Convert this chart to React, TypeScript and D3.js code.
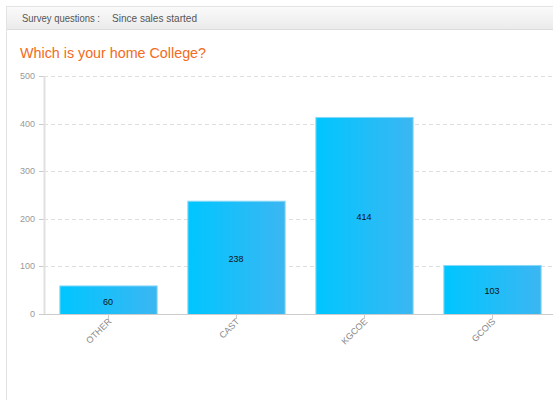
import React from "react";
import * as d3 from "d3";

const categories = ["OTHER", "CAST", "KGCOE", "GCOIS"];
const values = [60, 238, 414, 103];
const yTicks = [0, 100, 200, 300, 400, 500];

const W = 553;
const H = 400;
const FONT = "'Liberation Sans', Arial, sans-serif";

export default function App() {
  const x = d3.scaleBand<string>().domain(categories).range([44, 556]).paddingInner(0.24).paddingOuter(0.12);
  const y = d3.scaleLinear().domain([0, 500]).range([314, 76]);
  const bw = x.bandwidth();
  return (
    <svg width={W} height={H} style={{ position: "absolute", left: 0, top: 0, fontFamily: FONT }}>
      <defs>
        <linearGradient id="hdr" x1="0" y1="0" x2="0" y2="1">
          <stop offset="0" stopColor="#fafafa" />
          <stop offset="1" stopColor="#ebebeb" />
        </linearGradient>
        <linearGradient id="bar" x1="0" y1="0" x2="1" y2="0">
          <stop offset="0" stopColor="#00c6ff" />
          <stop offset="1" stopColor="#3cb6f2" />
        </linearGradient>
      </defs>
      <rect x={0} y={0} width={W} height={H} fill="#fff" />
      <rect x={6.5} y={6.5} width={W} height={H} fill="#fff" stroke="#e3e3e3" />
      <rect x={7} y={7} width={W} height={22} fill="url(#hdr)" />
      <line x1={7} x2={W} y1={29.5} y2={29.5} stroke="#dcdcdc" />
      <text x={22} y={22} fontSize={10.5} fill="#555" textLength={78} lengthAdjust="spacingAndGlyphs">Survey questions :</text>
      <text x={112} y={22} fontSize={10.5} fill="#555" textLength={85} lengthAdjust="spacingAndGlyphs">Since sales started</text>
      <text x={20} y={58} fontSize={14.5} fill="#f26b22" textLength={186} lengthAdjust="spacingAndGlyphs">Which is your home College?</text>
      {yTicks.map((t) => (
        <g key={t}>
          {t > 0 && (
            <line x1={44} x2={W} y1={Math.round(y(t)) + 0.5} y2={Math.round(y(t)) + 0.5} stroke="#dedede" strokeDasharray="4,3" />
          )}
          <line x1={39} x2={44} y1={Math.round(y(t)) + 0.5} y2={Math.round(y(t)) + 0.5} stroke="#ccc" />
          <text x={35} y={y(t) + 3} fontSize={9} fill="#999" textAnchor="end">{t}</text>
        </g>
      ))}
      <line x1={44.5} x2={44.5} y1={76} y2={314} stroke="#e0e0e0" strokeWidth={2} />
      {categories.map((c, i) => {
        const x0 = x(c)!;
        const top = y(values[i]);
        const cx = x0 + bw / 2;
        return (
          <g key={c}>
            <rect x={x0 + 0.5} y={top + 0.5} width={bw} height={y(0) - top} fill="url(#bar)" stroke="#8ad8f8" strokeWidth={1} />
            <text x={cx} y={(top + y(0)) / 2 + 5} fontSize={9} fill="#111" textAnchor="middle">{values[i]}</text>
            <line x1={Math.round(cx) + 0.5} x2={Math.round(cx) + 0.5} y1={314} y2={319} stroke="#ccc" />
            <text transform={`translate(${cx + 4},${322}) rotate(-45)`} fontSize={9} fill="#888" textAnchor="end">{c}</text>
          </g>
        );
      })}
      <line x1={44} x2={W} y1={314.5} y2={314.5} stroke="#cccccc" />
    </svg>
  );
}
